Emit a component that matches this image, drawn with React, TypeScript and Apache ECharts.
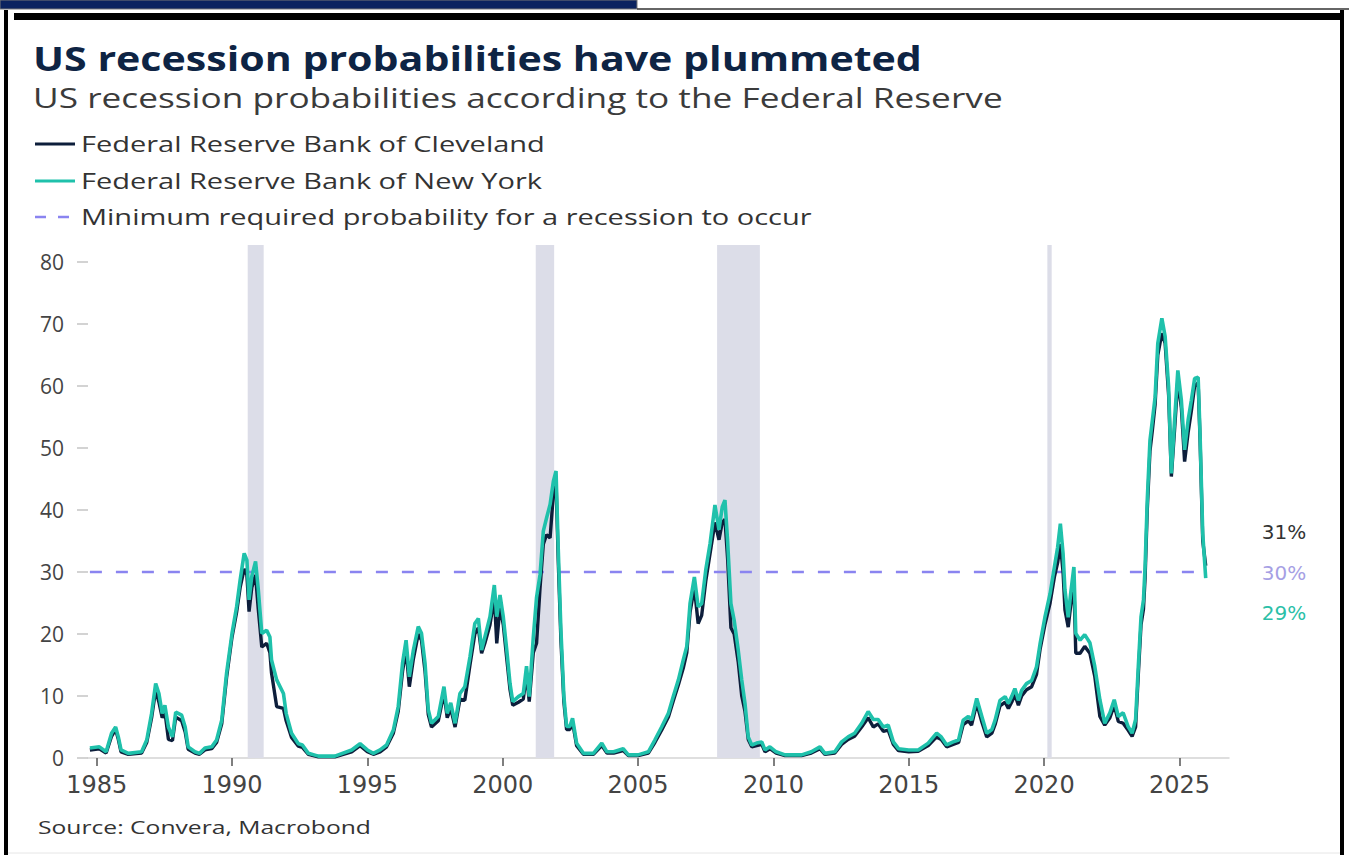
import React, { useEffect, useRef } from "react";
import * as echarts from "echarts";

const FONT = "'Open Sans', 'Noto Sans', sans-serif";
const WIDE = "'DejaVu Sans', 'Open Sans', sans-serif";

const dates = [
  1984.75, 1985.1, 1985.35, 1985.55, 1985.7, 1985.8, 1985.9, 1986.17, 1986.66, 1986.85,
  1987.03, 1987.18, 1987.3, 1987.42, 1987.52, 1987.65, 1987.8, 1987.92, 1988.14, 1988.27,
  1988.38, 1988.63, 1988.8, 1989.0, 1989.25, 1989.43, 1989.62, 1989.8, 1990.0, 1990.17,
  1990.3, 1990.45, 1990.55, 1990.63, 1990.73, 1990.87, 1990.97, 1991.1, 1991.28, 1991.4,
  1991.46, 1991.65, 1991.9, 1992.0, 1992.2, 1992.45, 1992.6, 1992.82, 1993.19, 1993.8,
  1994.42, 1994.73, 1995.0, 1995.22, 1995.47, 1995.71, 1995.96, 1996.14, 1996.3, 1996.43,
  1996.55, 1996.7, 1996.88, 1997.0, 1997.13, 1997.25, 1997.37, 1997.62, 1997.83, 1997.95,
  1998.08, 1998.24, 1998.42, 1998.6, 1998.79, 1998.97, 1999.1, 1999.22, 1999.34, 1999.53,
  1999.69, 1999.78, 1999.9, 2000.02, 2000.15, 2000.27, 2000.37, 2000.58, 2000.76, 2000.88,
  2000.98, 2001.13, 2001.25, 2001.38, 2001.5, 2001.62, 2001.75, 2001.87, 2001.97, 2002.05,
  2002.15, 2002.26, 2002.36, 2002.48, 2002.58, 2002.73, 2002.98, 2003.35, 2003.66, 2003.85,
  2004.1, 2004.45, 2004.64, 2005.0, 2005.38, 2005.62, 2005.87, 2006.12, 2006.3, 2006.49,
  2006.67, 2006.8, 2006.92, 2007.08, 2007.22, 2007.35, 2007.5, 2007.66, 2007.84, 2007.99,
  2008.11, 2008.21, 2008.31, 2008.43, 2008.55, 2008.7, 2008.83, 2008.95, 2009.07, 2009.2,
  2009.38, 2009.57, 2009.69, 2009.87, 2010.1, 2010.43, 2011.04, 2011.4, 2011.72, 2011.9,
  2012.27, 2012.52, 2012.76, 2013.0, 2013.26, 2013.5, 2013.69, 2013.87, 2014.06, 2014.24,
  2014.43, 2014.62, 2015.0, 2015.35, 2015.72, 2016.03, 2016.2, 2016.4, 2016.64, 2016.84,
  2017.01, 2017.2, 2017.32, 2017.51, 2017.7, 2017.88, 2018.07, 2018.19, 2018.37, 2018.56,
  2018.68, 2018.8, 2018.92, 2019.05, 2019.17, 2019.35, 2019.54, 2019.72, 2019.85, 2020.03,
  2020.22, 2020.38, 2020.5, 2020.6, 2020.7, 2020.77, 2020.89, 2020.98, 2021.1, 2021.17,
  2021.33, 2021.5, 2021.69, 2021.87, 2022.06, 2022.24, 2022.43, 2022.59, 2022.74, 2022.92,
  2023.1, 2023.25, 2023.38, 2023.48, 2023.58, 2023.67, 2023.73, 2023.81, 2023.91, 2024.0,
  2024.1, 2024.2, 2024.35, 2024.47, 2024.6, 2024.7, 2024.82, 2024.94, 2025.07, 2025.19,
  2025.32, 2025.44, 2025.56, 2025.69, 2025.76, 2025.86, 2025.97,
];

const newYork = [
  1.6, 1.8, 1.0, 4.0, 5.0, 3.4, 1.3, 0.75, 1.0, 2.9,
  7.2, 12.0, 10.4, 7.2, 8.5, 5.0, 3.4, 7.4, 6.9, 5.0,
  1.8, 1.0, 0.75, 1.6, 1.8, 2.9, 6.1, 13.7, 20.1, 24.4,
  28.7, 33.0, 31.9, 25.5, 29.3, 31.7, 27.2, 20.1, 20.6, 19.5,
  15.8, 12.6, 10.4, 7.2, 4.0, 2.3, 2.1, 0.75, 0.3, 0.3,
  1.3, 2.3, 1.3, 0.75, 1.3, 2.1, 4.5, 8.3, 15.3, 19.0,
  13.1, 17.4, 21.2, 20.1, 15.3, 7.8, 5.6, 6.7, 11.5, 7.2,
  8.9, 5.6, 10.4, 11.5, 16.3, 21.7, 22.5, 17.4, 19.5, 22.8,
  27.9, 22.8, 26.3, 22.8, 17.4, 12.0, 9.1, 9.9, 10.4, 14.8,
  9.9, 19.5, 25.9, 29.6, 36.6, 38.7, 40.9, 44.6, 46.3, 33.9,
  20.6, 9.9, 5.1, 5.1, 6.4, 2.4, 0.75, 0.75, 2.4, 1.0,
  1.0, 1.5, 0.5, 0.5, 1.0, 2.9, 5.0, 7.2, 9.9, 12.6,
  15.8, 18.0, 24.9, 29.2, 24.4, 24.9, 30.3, 34.6, 40.8, 36.8,
  40.5, 41.6, 34.8, 24.9, 22.2, 17.4, 12.6, 8.8, 3.4, 2.1,
  2.4, 2.6, 1.3, 1.8, 1.0, 0.5, 0.5, 1.0, 1.8, 0.75,
  1.0, 2.6, 3.4, 4.0, 5.6, 7.5, 6.2, 6.2, 5.0, 5.3,
  2.6, 1.5, 1.3, 1.3, 2.4, 4.0, 3.4, 2.1, 2.6, 2.9,
  6.1, 6.7, 6.1, 9.6, 6.7, 4.0, 4.6, 6.1, 9.3, 9.9,
  8.8, 9.9, 11.2, 9.3, 10.9, 12.0, 12.5, 14.7, 18.4, 22.7,
  26.5, 30.8, 34.0, 37.8, 33.0, 27.1, 22.7, 26.5, 30.8, 20.1,
  19.0, 19.9, 18.6, 14.8, 9.4, 5.6, 7.3, 9.4, 6.7, 7.3,
  5.1, 4.0, 6.2, 14.8, 22.8, 25.5, 30.8, 41.5, 51.2, 54.5,
  58.2, 66.9, 70.9, 68.0, 59.8, 45.9, 54.5, 62.5, 57.7, 49.7,
  54.5, 57.7, 61.2, 61.4, 52.3, 36.2, 29,
];

const cleveland = [
  1.3, 1.5, 0.8, 3.5, 4.6, 3.0, 1.0, 0.6, 0.8, 2.5,
  6.5, 11.0, 9.0, 6.5, 7.5, 3.0, 2.8, 6.6, 6.0, 4.2,
  1.4, 0.8, 0.6, 1.3, 1.5, 2.5, 5.5, 13.0, 19.5, 23.5,
  27.5, 30.5, 29.5, 23.6, 27.5, 29.5, 24.0, 17.9, 18.5, 17.0,
  13.7, 8.3, 8.0, 6.0, 3.3, 1.9, 1.7, 0.6, 0.2, 0.2,
  1.0, 2.0, 1.0, 0.6, 1.0, 1.8, 4.0, 7.5, 14.0, 17.5,
  11.5, 16.0, 20.0, 19.0, 14.0, 7.0, 5.0, 6.0, 10.5, 6.5,
  8.0, 5.0, 9.5, 9.3, 15.0, 20.0, 21.0, 16.9, 18.5, 21.5,
  26.0, 18.5, 24.5, 21.5, 16.0, 11.0, 8.5, 9.0, 9.5, 13.5,
  9.1, 17.0, 18.5, 27.5, 34.5, 36.0, 35.5, 42.5, 44.5, 32.0,
  19.0, 9.0, 4.6, 4.6, 5.8, 2.0, 0.6, 0.6, 2.0, 0.8,
  0.8, 1.2, 0.4, 0.4, 0.8, 2.5, 4.5, 6.6, 9.2, 11.8,
  14.5, 17.0, 23.5, 27.5, 21.7, 23.0, 28.5, 33.0, 38.0, 35.2,
  38.0, 38.5, 32.0, 21.0, 20.0, 15.5, 10.0, 7.5, 3.0, 1.8,
  2.0, 2.2, 1.0, 1.5, 0.8, 0.4, 0.4, 0.8, 1.5, 0.6,
  0.8, 2.2, 3.0, 3.5, 5.0, 6.5, 5.0, 5.5, 4.3, 4.5,
  2.2, 1.2, 1.0, 1.1, 2.0, 3.4, 3.0, 1.8, 2.2, 2.5,
  5.4, 6.0, 5.3, 8.8, 5.8, 3.4, 4.0, 5.4, 8.4, 9.0,
  8.0, 9.0, 10.2, 8.5, 10.0, 11.0, 11.5, 13.5, 17.5, 21.5,
  25.0, 29.2, 31.5, 34.5, 30.0, 23.9, 21.1, 24.5, 28.0, 16.9,
  16.9, 18.0, 16.9, 13.2, 6.7, 5.3, 6.5, 8.5, 5.9, 5.6,
  4.5, 3.5, 5.0, 13.5, 21.5, 24.0, 29.0, 40.0, 49.5, 52.9,
  57.0, 65.0, 68.5, 66.9, 58.5, 45.4, 53.0, 61.0, 56.5, 47.8,
  52.5, 56.0, 60.0, 60.5, 51.5, 35.0, 31,
];

const thresholdValue = 30;

const recessions: [number, number][] = [
  [1990.58, 1991.17],
  [2001.22, 2001.9],
  [2007.92, 2009.5],
  [2020.12, 2020.28],
];

const xTickYears = [1985, 1990, 1995, 2000, 2005, 2010, 2015, 2020, 2025];
const yTickValues = [0, 10, 20, 30, 40, 50, 60, 70, 80];

const seriesNames = [
  "Federal Reserve Bank of Cleveland",
  "Federal Reserve Bank of New York",
  "Minimum required probability for a recession to occur",
];

const titleText = "US recession probabilities have plummeted";
const subtitleText = "US recession probabilities according to the Federal Reserve";
const sourceText = "Source: Convera, Macrobond";

const NAVY = "#0d1e3b";
const TEAL = "#1fc1ab";
const DASH = "#8a84f0";

export default function App() {
  const ref = useRef<HTMLDivElement>(null);

  useEffect(() => {
    if (!ref.current) return;
    const chart = echarts.init(ref.current, null, { renderer: "svg" });

    const nyData = dates.map((d, i) => [d, newYork[i]]);
    const clData = dates.map((d, i) => [d, cleveland[i]]);
    const thData = [
      [dates[0], thresholdValue],
      [dates[dates.length - 1], thresholdValue],
    ];

    const legendColors = [NAVY, TEAL, DASH];
    const legendY = [144, 181, 217];
    const legendGraphics = seriesNames.map((name, i) => ({
      type: "group",
      children: [
        {
          type: "line",
          shape: { x1: 35, y1: legendY[i], x2: 75, y2: legendY[i] },
          style: {
            stroke: legendColors[i],
            lineWidth: i === 2 ? 2.5 : 3,
            lineDash: i === 2 ? [11, 12] : null,
          },
        },
        {
          type: "text",
          x: 81,
          y: legendY[i],
          scaleX: 1.38,
          style: {
            text: name,
            fontSize: 21,
            fill: "#333333",
            fontFamily: FONT,
            verticalAlign: "middle",
            align: "left",
          },
        },
      ],
    }));

    const option: any = {
      animation: false,
      backgroundColor: "#ffffff",
      textStyle: { fontFamily: FONT },
      grid: { left: 88, right: 120, top: 245, bottom: 97, containLabel: false },
      xAxis: {
        type: "value",
        min: 1984.68,
        max: 2026.83,
        splitLine: { show: false },
        axisLine: { show: true, lineStyle: { color: "#d4d4d4", width: 1.5 } },
        axisTick: {
          show: true,
          customValues: xTickYears,
          length: 8,
          lineStyle: { color: "#555555", width: 1.5 },
        },
        axisLabel: {
          customValues: xTickYears,
          fontSize: 24,
          color: "#444444",
          margin: 15,
          fontFamily: WIDE,
          formatter: (v: number) => String(Math.round(v)),
        },
      },
      yAxis: {
        type: "value",
        min: 0,
        max: 82.74,
        splitLine: { show: false },
        axisLine: { show: false },
        axisTick: {
          show: true,
          customValues: yTickValues,
          length: 11,
          lineStyle: { color: "#c4c4c4", width: 1.5 },
        },
        axisLabel: {
          customValues: yTickValues,
          fontSize: 21,
          color: "#444444",
          margin: 24,
          fontFamily: FONT,
        },
      },
      series: [
        {
          name: seriesNames[0],
          type: "line",
          data: clData,
          symbol: "none",
          color: NAVY,
          lineStyle: { color: NAVY, width: 3.4 },
          z: 3,
          endLabel: {
            show: true,
            formatter: (p: any) => `${p.value[1]}%`,
            color: "#333333",
            fontSize: 20,
            fontFamily: WIDE,
            distance: 0,
            offset: [56, -34],
          },
          markArea: {
            silent: true,
            itemStyle: { color: "#dcdde8" },
            data: recessions.map(([a, b]) => [
              { xAxis: a, yAxis: 0 },
              { xAxis: b, yAxis: 82.74 },
            ]),
          },
        },
        {
          name: seriesNames[1],
          type: "line",
          data: nyData,
          symbol: "none",
          color: TEAL,
          lineStyle: { color: TEAL, width: 3.6 },
          z: 4,
          endLabel: {
            show: true,
            formatter: (p: any) => `${p.value[1]}%`,
            color: "#2bbfa8",
            fontSize: 20,
            fontFamily: WIDE,
            distance: 0,
            offset: [56, 35],
          },
        },
        {
          name: seriesNames[2],
          type: "line",
          data: thData,
          symbol: "none",
          color: DASH,
          lineStyle: { color: DASH, width: 2.5, type: [12, 14] },
          z: 2,
          endLabel: {
            show: true,
            formatter: (p: any) => `${p.value[1]}%`,
            color: "#a69fe4",
            fontSize: 20,
            fontFamily: WIDE,
            distance: 0,
            offset: [56, 1],
          },
        },
      ],
      graphic: [
        // frame
        { type: "rect", shape: { x: 0, y: 0, width: 637, height: 9 }, style: { fill: "#0b2360", stroke: "#777", lineWidth: 1 }, z: 100 },
        { type: "line", shape: { x1: 637, y1: 9, x2: 1349, y2: 9 }, style: { stroke: "#333", lineWidth: 1.5 }, z: 100 },
        { type: "rect", shape: { x: 14, y: 13, width: 1327, height: 7 }, style: { fill: "#000000" }, z: 100 },
        { type: "rect", shape: { x: 4, y: 10, width: 4, height: 845 }, style: { fill: "#000000" }, z: 100 },
        { type: "rect", shape: { x: 1340, y: 10, width: 4, height: 845 }, style: { fill: "#000000" }, z: 100 },
        { type: "line", shape: { x1: 8, y1: 853, x2: 1340, y2: 853 }, style: { stroke: "#e6e6e6", lineWidth: 1 }, z: 100 },
        // titles
        {
          type: "text",
          x: 33,
          y: 58,
          scaleX: 1.21,
          style: { text: titleText, fontSize: 34, fontWeight: "bold", fill: "#0e2444", fontFamily: FONT, verticalAlign: "middle" },
        },
        {
          type: "text",
          x: 33,
          y: 98,
          scaleX: 1.33,
          style: { text: subtitleText, fontSize: 26.5, fill: "#3b3b3b", fontFamily: FONT, verticalAlign: "middle" },
        },
        ...legendGraphics,
        {
          type: "text",
          x: 38,
          y: 827,
          scaleX: 1.37,
          style: { text: sourceText, fontSize: 18, fill: "#333333", fontFamily: FONT, verticalAlign: "middle" },
        },
      ],
    };

    chart.setOption(option);
    return () => chart.dispose();
  }, []);

  return (
    <div
      ref={ref}
      style={{ position: "absolute", left: 0, top: 0, width: 1349, height: 855, background: "#fff" }}
    />
  );
}
